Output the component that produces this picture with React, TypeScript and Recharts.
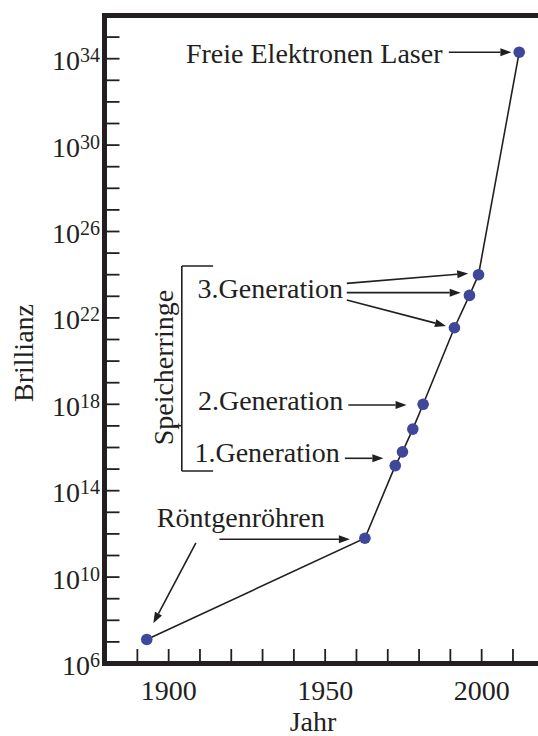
import { LineChart, Line, XAxis, YAxis, ReferenceLine, ReferenceDot } from 'recharts'

// Jahr / Brillianz der Röntgenquellen
const years = [1893, 1962.7, 1972.4, 1974.7, 1978, 1981.3, 1991.3, 1996.1, 1999, 2012]
const brilliance = [1.3e7, 6.3e11, 1.45e15, 6.3e15, 7.1e16, 1e18, 3.5e21, 1.1e23, 1e24, 2e34]

const yearTicks = [1890, 1900, 1910, 1920, 1930, 1940, 1950, 1960, 1970, 1980, 1990, 2000, 2010]
const yearLabels = [1900, 1950, 2000]
const expTicks = [6, 7, 8, 9, 10, 11, 12, 13, 14, 15, 16, 17, 18, 19, 20, 21, 22, 23, 24, 25, 26, 27, 28, 29, 30, 31, 32, 33, 34, 35, 36]
const expLabels = [6, 10, 14, 18, 22, 26, 30, 34]

const data = years.map((year, i) => ({ year, brilliance: brilliance[i] }))

const INK = '#231f20'
const DOT = '#3f479b'
const FONT = '"Liberation Serif", "Times New Roman", serif'

function XTick(props: any) {
  const { x, y, payload } = props
  const showLabel = yearLabels.includes(payload.value)
  return (
    <g>
      <line x1={x} y1={y} x2={x} y2={y - 14.5} stroke={INK} strokeWidth={1.8} />
      {showLabel && (
        <text x={x} y={y + 36.5} textAnchor="middle" fontSize={28} fontFamily={FONT} fill={INK}>
          {payload.value}
        </text>
      )}
    </g>
  )
}

function YTick(props: any) {
  const { x, y, payload } = props
  const exp = Math.round(Math.log10(payload.value))
  const showLabel = expLabels.includes(exp)
  return (
    <g>
      {exp > 6 && exp < 36 && <line x1={x} y1={y} x2={x + 15} y2={y} stroke={INK} strokeWidth={1.8} />}
      {showLabel && (
        <text x={x - 4.5} y={y + 11.5} textAnchor="end" fontSize={28} fontFamily={FONT} fill={INK}>
          <tspan>10</tspan>
          <tspan dy={-8} fontSize={20}>{exp}</tspan>
        </text>
      )}
    </g>
  )
}

function Arrow(props: any) {
  const { x1, y1, x2, y2 } = props
  const a = Math.atan2(y2 - y1, x2 - x1)
  const len = 11
  const w = 4
  const bx = x2 - len * Math.cos(a)
  const by = y2 - len * Math.sin(a)
  const pts = [
    [x2, y2],
    [bx + w * Math.sin(a), by - w * Math.cos(a)],
    [bx - w * Math.sin(a), by + w * Math.cos(a)],
  ]
    .map((p) => p.join(','))
    .join(' ')
  return (
    <g>
      <line x1={x1} y1={y1} x2={bx} y2={by} stroke={INK} strokeWidth={1.6} />
      <polygon points={pts} fill={INK} />
    </g>
  )
}

const txt = (label: string, anchor: string, rotate = false) => (props: any) => {
  const { cx, cy } = props
  return (
    <text
      x={cx}
      y={cy}
      textAnchor={anchor}
      fontSize={28}
      fontFamily={FONT}
      fill={INK}
      transform={rotate ? `rotate(-90 ${cx} ${cy})` : undefined}
    >
      {label}
    </text>
  )
}

const e = (p: number) => Math.pow(10, p)

export default function App() {
  return (
    <div style={{ position: 'absolute', left: 0, top: 0 }}>
      <LineChart
        width={538}
        height={736}
        data={data}
        margin={{ top: 15.5, right: 0, bottom: 0, left: 0 }}
      >
        <XAxis
          dataKey="year"
          type="number"
          domain={[1879.5, 2018]}
          ticks={yearTicks}
          interval={0}
          allowDataOverflow
          height={72.5}
          tickSize={0}
          tickMargin={0}
          tick={<XTick />}
          axisLine={{ stroke: INK, strokeWidth: 5, strokeLinecap: 'square' }}
          label={(p: any) => {
            const vb = p.viewBox || { x: 104.5, y: 663.5 }
            return (
              <text x={vb.x + 208.5} y={vb.y + 67.5} textAnchor="middle" fontSize={28} fontFamily={FONT} fill={INK}>
                Jahr
              </text>
            )
          }}
        />
        <YAxis
          dataKey="brilliance"
          scale="log"
          domain={[1e6, 1e36]}
          ticks={expTicks.map(e)}
          interval={0}
          allowDataOverflow
          width={104.5}
          tickSize={0}
          tickMargin={0}
          tick={<YTick />}
          axisLine={{ stroke: INK, strokeWidth: 5, strokeLinecap: 'square' }}
          label={(p: any) => {
            const vb = p.viewBox || { x: 0, y: 15.5, height: 648 }
            const cx = vb.x + 33
            const cy = vb.y + vb.height / 2 + 13.5
            return (
              <text x={cx} y={cy} textAnchor="middle" fontSize={28} fontFamily={FONT} fill={INK} transform={`rotate(-90 ${cx} ${cy})`}>
                Brillianz
              </text>
            )
          }}
        />

        {/* oberer Rahmen */}
        <ReferenceLine y={1e36} stroke={INK} strokeWidth={5} strokeLinecap="square" />

        {/* Speicherringe-Klammer */}
        <ReferenceLine segment={[{ x: 1904.2, y: e(24.4) }, { x: 1904.2, y: e(14.91) }]} stroke={INK} strokeWidth={1.6} />
        <ReferenceLine segment={[{ x: 1904.2, y: e(24.4) }, { x: 1914.2, y: e(24.4) }]} stroke={INK} strokeWidth={1.6} />
        <ReferenceLine segment={[{ x: 1904.2, y: e(14.91) }, { x: 1914.2, y: e(14.91) }]} stroke={INK} strokeWidth={1.6} />
        <ReferenceLine segment={[{ x: 1901.5, y: e(17.01) }, { x: 1904.2, y: e(17.01) }]} stroke={INK} strokeWidth={1.6} />
        <ReferenceDot x={1901.5} y={e(19.7)} r={0} shape={txt('Speicherringe', 'middle', true)} />

        {/* Pfeile */}
        <ReferenceLine segment={[{ x: 1989.5, y: e(34.3) }, { x: 2009.5, y: e(34.3) }]} shape={Arrow} />
        <ReferenceLine segment={[{ x: 1956.9, y: e(23.6) }, { x: 1995.7, y: e(24.06) }]} shape={Arrow} />
        <ReferenceLine segment={[{ x: 1956.9, y: e(23.17) }, { x: 1993.3, y: e(23.17) }]} shape={Arrow} />
        <ReferenceLine segment={[{ x: 1956.9, y: e(22.83) }, { x: 1988.6, y: e(21.63) }]} shape={Arrow} />
        <ReferenceLine segment={[{ x: 1957.4, y: e(17.97) }, { x: 1976.0, y: e(17.97) }]} shape={Arrow} />
        <ReferenceLine segment={[{ x: 1956.3, y: e(15.5) }, { x: 1968.6, y: e(15.5) }]} shape={Arrow} />
        <ReferenceLine segment={[{ x: 1916.2, y: e(11.75) }, { x: 1957.9, y: e(11.75) }]} shape={Arrow} />
        <ReferenceLine segment={[{ x: 1908.7, y: e(11.59) }, { x: 1895.1, y: e(7.86) }]} shape={Arrow} />

        {/* Beschriftungen */}
        <ReferenceDot x={1987.5} y={e(33.79)} r={0} shape={txt('Freie Elektronen Laser', 'end')} />
        <ReferenceDot x={1955.7} y={e(22.91)} r={0} shape={txt('3.Generation', 'end')} />
        <ReferenceDot x={1955.8} y={e(17.74)} r={0} shape={txt('2.Generation', 'end')} />
        <ReferenceDot x={1954.7} y={e(15.34)} r={0} shape={txt('1.Generation', 'end')} />
        <ReferenceDot x={1896.2} y={e(12.33)} r={0} shape={txt('Röntgenröhren', 'start')} />

        <Line
          dataKey="brilliance"
          stroke={INK}
          strokeWidth={1.6}
          dot={{ r: 5.8, fill: DOT, stroke: 'none' }}
          activeDot={false}
          isAnimationActive={false}
        />
      </LineChart>
    </div>
  )
}
